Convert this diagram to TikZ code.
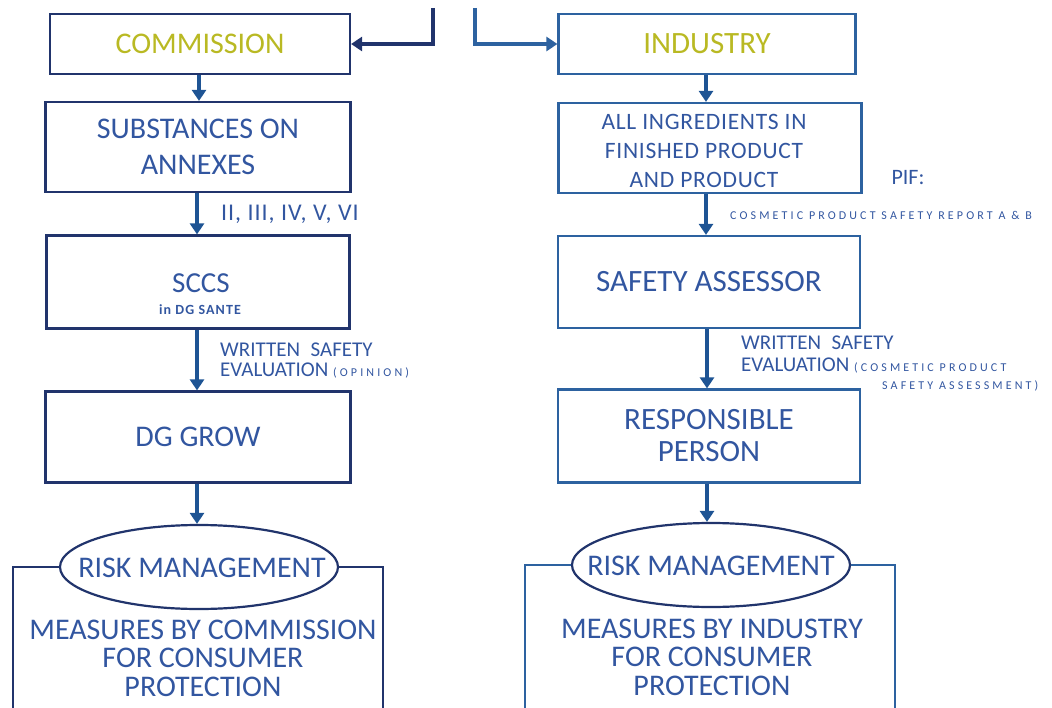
\documentclass[tikz,border=0pt]{standalone}
\usepackage{fontspec}
\setmainfont{Carlito}
\usetikzlibrary{arrows.meta,shapes.geometric}
\definecolor{txt}{RGB}{50,86,160}
\definecolor{navy}{RGB}{33,52,108}
\definecolor{rblue}{RGB}{45,98,160}
\definecolor{arrblue}{RGB}{30,84,148}
\definecolor{olive}{RGB}{185,185,35}
\begin{document}
\begin{tikzpicture}[x=1pt,y=-1pt,
  box/.style={draw=#1, line width=2.2pt, text=txt, align=center, inner sep=0pt,
    font=\fontsize{30}{36}\selectfont},
  rbox/.style={box=#1, font=\fontsize{31}{32}\selectfont},
  oval/.style={ellipse, draw=#1, line width=2.2pt, fill=white, inner sep=0pt,
    minimum width=278pt, minimum height=84pt},
  ovaltxt/.style={text=txt, inner sep=0pt, font=\fontsize{30}{30}\selectfont},
  big/.style={text=txt, align=center, inner sep=0pt, font=\fontsize{30}{28.5}\selectfont},
  lab/.style={text=txt, align=left, inner sep=0pt, anchor=west, font=\fontsize{21}{21}\selectfont},
  tinytxt/.style={text=txt, inner sep=0pt, anchor=west,
    font=\fontsize{12}{12}\selectfont\addfontfeatures{LetterSpace=26}},
  arr/.style={draw=arrblue, line width=3.4pt, -{Triangle[length=11pt,width=14pt]}},
  toparr/.style={draw=#1, line width=3.2pt, -{Triangle[length=11pt,width=14pt]}},
  frame/.style={draw=#1, line width=2.2pt}
]
\useasboundingbox (0,0) rectangle (1052,708);

% ---------- left column ----------
\node[box=navy, text=olive, minimum width=300pt, minimum height=60pt] (comm) at (200,44) {COMMISSION};
\node[box=navy, minimum width=305pt, minimum height=90pt] (sub) at (198,147) {SUBSTANCES ON\\ANNEXES};
\node[box=navy, minimum width=303pt, minimum height=93pt] (sccs) at (198,282) {};
\node[text=txt, inner sep=0pt, font=\fontsize{29}{30}\selectfont] (sccst) at (201,283) {SCCS};
\node[text=txt, inner sep=0pt, font=\fontsize{14}{15}\selectfont\bfseries\addfontfeatures{LetterSpace=8}] (sccss) at (200,310) {in DG SANTE};
\node[box=navy, minimum width=305pt, minimum height=91pt] (grow) at (198,437) {DG GROW};
\node[oval=navy] (rmL) at (199,567) {};
\node[ovaltxt] (rmLt) at (202,568) {RISK MANAGEMENT};
\node[big] (measL) at (203,658) {MEASURES BY COMMISSION\\FOR CONSUMER\\PROTECTION};
\coordinate (blL) at (13,712);
\coordinate (brL) at (383,712);
\draw[frame=navy] (rmL.west) -| (blL);
\draw[frame=navy] (rmL.east) -| (brL);

\draw[arr] (comm.south -| 199,0) -- (199,0 |- sub.north);
\draw[arr] (sub.south -| 197,0) -- (197,0 |- sccs.north);
\draw[arr] (sccs.south -| 197,0) -- (197,0 |- grow.north);
\draw[arr] (grow.south -| 197,0) -- (197,0 |- rmL.north);

\node[lab, font=\fontsize{24}{24}\selectfont\addfontfeatures{LetterSpace=4}] (annex) at (221,214) {II, III, IV, V, VI};
\node[lab] (wseL1) at (220,350) {WRITTEN\enspace SAFETY};
\node[lab] (wseL2) at (220,371) {EVALUATION {\fontsize{12}{12}\selectfont\addfontfeatures{LetterSpace=26}(OPINION)}};

% ---------- right column ----------
\node[rbox=rblue, text=olive, minimum width=297pt, minimum height=60pt] (ind) at (707,44) {INDUSTRY};
\node[box=rblue, minimum width=303pt, minimum height=90pt] (all) at (710,148) {};
\node[text=txt, align=center, inner sep=0pt, font=\fontsize{23.5}{29}\selectfont\addfontfeatures{LetterSpace=3}] (allt) at (704,151) {ALL INGREDIENTS IN\\FINISHED PRODUCT\\AND PRODUCT};
\node[rbox=rblue, minimum width=302pt, minimum height=92pt] (sa) at (709,282) {SAFETY ASSESSOR};
\node[rbox=rblue, minimum width=302pt, minimum height=93pt] (rp) at (709,436) {RESPONSIBLE\\PERSON};
\node[oval=navy] (rmR) at (711,565) {};
\node[ovaltxt] (rmRt) at (711,566) {RISK MANAGEMENT};
\node[big] (measR) at (712,657) {MEASURES BY INDUSTRY\\FOR CONSUMER\\PROTECTION};
\coordinate (blR) at (525,712);
\coordinate (brR) at (895,712);
\draw[frame=rblue] (rmR.west) -| (blR);
\draw[frame=rblue] (rmR.east) -| (brR);

\draw[arr] (ind.south -| 706,0) -- (706,0 |- all.north);
\draw[arr] (all.south -| 706,0) -- (706,0 |- sa.north);
\draw[arr] (sa.south -| 707,0) -- (707,0 |- rp.north);
\draw[arr] (rp.south -| 707,0) -- (707,0 |- rmR.north);

\node[text=txt, inner sep=0pt, font=\fontsize{22}{22}\selectfont] (pif) at (908,178) {PIF:};
\node[tinytxt] (cpsr) at (730,215) {COSMETIC PRODUCT SAFETY  REPORT A \& B};
\node[lab] (wseR1) at (741,343) {WRITTEN\enspace SAFETY};
\node[lab] (wseR2) at (741,366) {EVALUATION {\fontsize{12}{12}\selectfont\addfontfeatures{LetterSpace=26}(COSMETIC PRODUCT}};
\node[tinytxt] (wseR3) at (882,386) {SAFETY ASSESSMENT)};

% ---------- top connectors ----------
\coordinate (tl) at (433,8);
\coordinate (tr) at (475,8);
\draw[toparr=navy] (tl) |- (comm.east);
\draw[toparr=rblue] (tr) |- (ind.west);
\end{tikzpicture}
\end{document}
